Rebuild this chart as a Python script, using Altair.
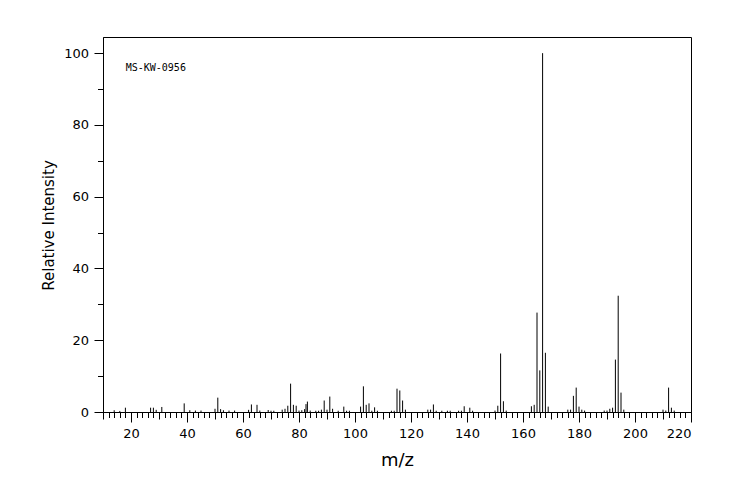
import altair as alt
import pandas as pd

# Mass spectrum peaks (m/z, relative intensity)
mz = [14, 16, 18, 27, 28, 29, 31, 39, 41, 43, 45, 50, 51, 52, 53, 55, 57,
      62, 63, 65, 66, 69, 70, 71, 74, 75, 76, 77, 78, 79, 80, 81, 82, 82.5, 83, 84,
      86, 87, 88, 89, 90, 91, 92, 94, 96, 97, 98, 102, 103, 104, 105, 106, 107, 108,
      113, 114, 115, 116, 117, 118, 126, 127, 128, 129, 131, 133, 134, 137, 138,
      139, 141, 142, 150, 151, 152, 153, 154, 163, 164, 165, 166, 167, 168, 169,
      176, 177, 178, 179, 180, 181, 182, 189, 190, 191, 192, 193, 194, 195, 196,
      210, 211, 212, 213, 214]
intensity = [0.5, 0.3, 1.2, 1.2, 1.2, 0.6, 1.4, 2.4, 0.5, 0.4, 0.4, 0.9, 4.0, 0.8, 0.5, 0.4, 0.4,
             0.6, 2.1, 2.0, 0.4, 0.55, 0.35, 0.35, 0.65, 0.9, 1.75, 7.9, 2.0, 1.75, 0.4, 0.5, 0.8, 2.2, 2.9, 0.4,
             0.35, 0.35, 0.65, 3.2, 0.65, 4.3, 0.9, 0.35, 1.5, 0.35, 0.35, 1.5, 7.15, 2.0, 2.4, 0.35, 1.3, 0.35,
             0.35, 0.35, 6.5, 6.0, 3.2, 0.65, 0.65, 0.65, 2.1, 0.35, 0.35, 0.35, 0.35, 0.35, 0.35,
             1.6, 1.2, 0.35, 0.4, 1.75, 16.3, 3.0, 0.4, 1.6, 2.0, 27.7, 11.6, 100, 16.5, 1.5,
             0.65, 0.65, 4.5, 6.8, 1.5, 0.65, 0.4, 0.4, 0.4, 0.9, 1.2, 14.6, 32.4, 5.4, 0.65,
             0.65, 0.4, 6.8, 1.2, 0.4]

x_major = list(range(20, 221, 20))
x_mid = list(range(10, 221, 20))
x_minor = list(range(10, 221, 2))
y_major = [0, 20, 40, 60, 80, 100]
y_minor = [10, 30, 50, 70, 90]
spectrum_id = ["MS-KW-0956"]

df = pd.DataFrame({"mz": mz, "intensity": intensity})
lab = pd.DataFrame({"label": spectrum_id})

FONT = "DejaVu Sans"
xscale = alt.Scale(domain=[10, 220], nice=False, zero=False)
yscale = alt.Scale(domain=[0, 104.5], nice=False, zero=True)

bars = alt.Chart(df).mark_rule(color="black", strokeWidth=1).encode(
    x=alt.X("mz:Q", scale=xscale,
            axis=alt.Axis(values=x_major, tickSize=10, labelPadding=5, orient="bottom",
                          title="m/z", titleFontSize=18, titleY=48, titleBaseline="middle",
                          format="d", labelFontSize=13)),
    y=alt.Y("intensity:Q", scale=yscale,
            axis=alt.Axis(values=y_major, tickSize=9, labelPadding=5.5, orient="left",
                          title="Relative Intensity", titleFontSize=15, titleX=-54.5, titleY=188,
                          titleAlign="center", titleBaseline="middle", titleAngle=270,
                          format="d", labelFontSize=13)),
    y2=alt.datum(0),
)

mid_ticks = alt.Chart(df).mark_rule(opacity=0).encode(
    x=alt.X("mz:Q", scale=xscale,
            axis=alt.Axis(values=x_mid, tickSize=7, labels=False, domain=False,
                          orient="bottom", title="")),
    y=alt.Y("intensity:Q", scale=yscale,
            axis=alt.Axis(values=y_minor, tickSize=5.5, labels=False, domain=False,
                          orient="left", title="")),
)

minor_ticks = alt.Chart(df).mark_rule(opacity=0).encode(
    x=alt.X("mz:Q", scale=xscale,
            axis=alt.Axis(values=x_minor, tickSize=5.5, labels=False, domain=False,
                          orient="bottom", title="")),
    y=alt.Y("intensity:Q", scale=yscale,
            axis=alt.Axis(values=y_minor, tickSize=5.5, labels=False, domain=False,
                          orient="left", title="")),
)

label = alt.Chart(lab).mark_text(
    align="left", baseline="middle", font="DejaVu Sans Mono", fontSize=10, color="black"
).encode(
    x=alt.value(22.7), y=alt.value(30.5), text="label:N"
)

chart = alt.layer(bars, mid_ticks, minor_ticks, label).resolve_axis(
    x="independent", y="independent"
).properties(
    width=588, height=375,
    autosize=alt.AutoSizeParams(type="none"),
    padding={"left": 95, "top": 29, "right": 45, "bottom": 80},
).configure_view(
    stroke="black", strokeWidth=1
).configure_axis(
    grid=False, domainColor="black", tickColor="black", labelColor="black",
    titleColor="black", labelFont=FONT, titleFont=FONT, titleFontWeight="normal",
    domainWidth=1, tickWidth=1
)

chart.save("out.html", embed_options={"renderer": "svg", "actions": False})
